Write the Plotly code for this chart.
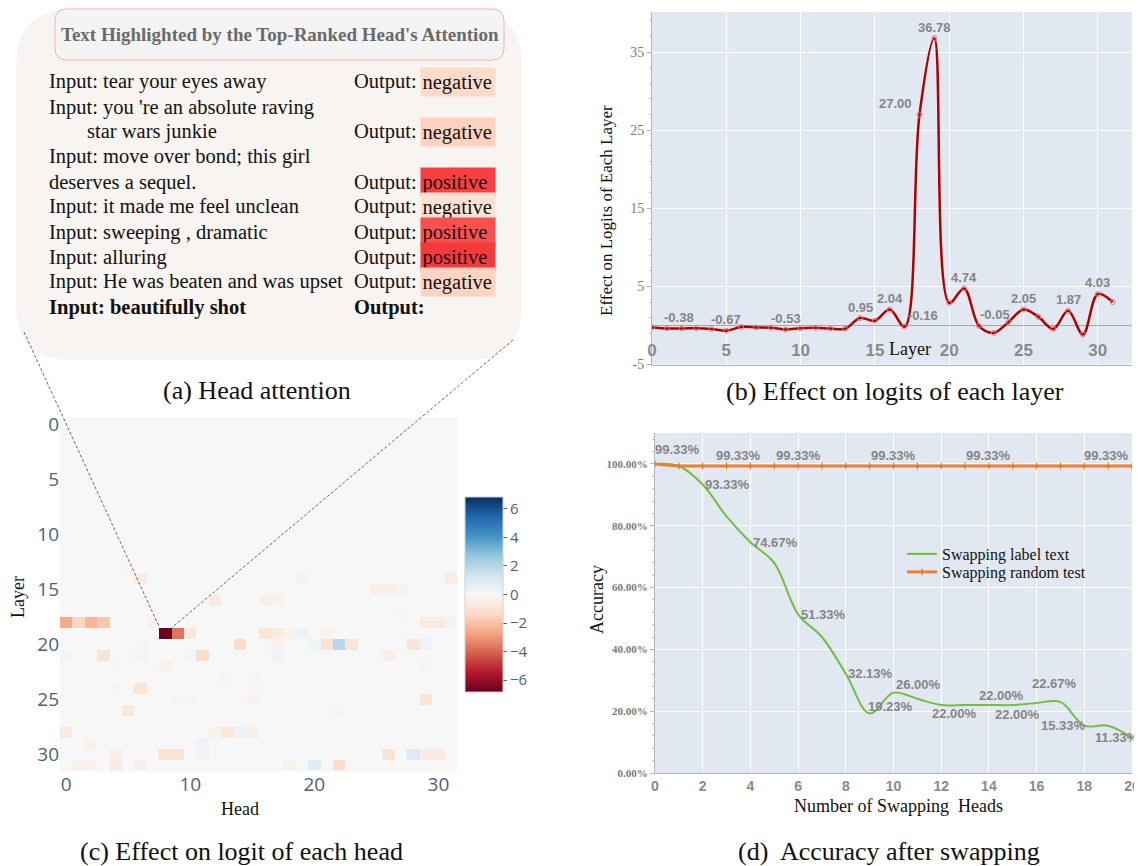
import numpy as np
import plotly.graph_objects as go

# The page body has an 8px margin, so the figure is drawn 8px smaller and every
# layout position (given in screen pixels) is converted with that offset.
SCREEN_W, SCREEN_H, OFF = 1142, 866, 8
W, H = SCREEN_W - OFF, SCREEN_H - OFF
SERIF = "Liberation Serif"
SANS = "Liberation Sans"
PSANS = "Open Sans"


def px(x):
    return (x - OFF) / W


def py(y):
    return 1 - (y - OFF) / H


# ---------------- data: (a) head attention text ----------------
input_texts = [
    "Input: tear your eyes away",
    "Input: you 're an absolute raving",
    "star wars junkie",
    "Input: move over bond; this girl",
    "deserves a sequel.",
    "Input: it made me feel unclean",
    "Input: sweeping , dramatic",
    "Input: alluring",
    "Input: He was beaten and was upset",
]
output_rows = [0, 2, 4, 5, 6, 7, 8]
output_labels = ["negative", "negative", "positive", "negative", "positive", "positive", "negative"]
highlight_colors = ["#FDDBCA", "#FDD2BF", "#FA3F40", "#FDE2D4", "#FB5050", "#F53A3E", "#FDD4C1"]
query_text = "Input: beautifully shot"

# ---------------- data: (b) effect on logits of each layer ----------------
layers = list(range(32))
layer_effect = [-0.25, -0.38, -0.40, -0.35, -0.45, -0.67, -0.20, -0.25, -0.28, -0.53,
                -0.35, -0.30, -0.40, -0.42, 0.95, 0.60, 2.04, -0.16, 27.00, 36.78,
                2.90, 4.74, -0.05, -0.95, 0.45, 2.05, 1.10, -0.45, 1.87, -1.15, 4.03, 3.00]
b_label_idx = [1, 5, 9, 14, 16, 17, 18, 19, 21, 22, 25, 28, 30]
b_label_dx = [12, 0, 0, 0, 0, 18, -24, 0, 0, 16, 0, 0, 0]

# ---------------- data: (c) effect on logit of each head ----------------
heads = list(range(32))
cell_layers = [18, 18, 18, 18, 18, 18, 18, 18,
               19, 19, 19, 19, 19, 19, 19, 19,
               20, 20, 20, 20, 20, 20, 20, 20, 20,
               21, 21, 21, 21, 21, 21, 21,
               22, 22, 22, 23, 23, 24, 24,
               25, 25, 25, 25, 26, 26,
               28, 28, 28, 28, 28, 29, 29,
               30, 30, 30, 30, 30, 30, 30, 30,
               31, 31, 31, 31, 31, 31, 31,
               13, 14, 14, 14, 15, 15, 15, 16, 16, 16, 17]
cell_heads = [0, 1, 2, 3, 7, 29, 30, 31,
              8, 9, 10, 16, 17, 18, 19, 21,
              6, 14, 17, 20, 21, 22, 23, 28, 29,
              0, 3, 6, 10, 11, 17, 26,
              4, 8, 29, 13, 15, 4, 6,
              9, 10, 15, 29, 5, 22,
              0, 12, 13, 14, 15, 2, 11,
              4, 8, 9, 11, 26, 28, 29, 30,
              1, 2, 4, 6, 18, 20, 22,
              5, 6, 19, 31, 25, 26, 27, 12, 16, 17, 27]
cell_values = [-2.6, -1.5, -2.3, -1.9, -0.3, -0.6, -0.6, -0.3,
               -6.8, -3.7, -0.8, -0.9, -0.6, -0.3, 0.4, -0.2,
               -0.1, -1.3, -0.3, 0.2, -1.0, 1.9, -0.9, -0.9, 0.3,
               -0.2, -1.0, -0.2, 0.15, -1.2, 0.2, -0.4,
               -0.1, -0.3, 0.1, 0.15, 0.15, 0.15, -0.9,
               -0.1, -0.1, -0.2, -0.9, -0.6, -0.1,
               -0.6, -0.3, -0.8, 0.4, -0.4, -0.3, 0.3,
               -0.4, -1.0, -1.0, 0.3, -1.0, 0.9, -0.6, -0.6,
               -0.3, -0.2, -0.6, -0.4, -0.3, 0.8, -1.2,
               -0.15, -0.5, -0.2, -0.5, -0.4, -0.4, -0.2, -0.6, -0.4, -0.3, 0.1]
z_lim = 6.84
colorbar_ticks = [-6, -4, -2, 0, 2, 4, 6]
RDBU = ['rgb(103,0,31)', 'rgb(178,24,43)', 'rgb(214,96,77)', 'rgb(244,165,130)',
        'rgb(253,219,199)', 'rgb(247,247,247)', 'rgb(209,229,240)', 'rgb(146,197,222)',
        'rgb(67,147,195)', 'rgb(33,102,172)', 'rgb(5,48,97)']

# ---------------- data: (d) accuracy after swapping ----------------
swap_n = list(range(21))
acc_label_text = [1.0, 0.9933, 0.9333, 0.83, 0.7467, 0.68, 0.5133, 0.44, 0.3213, 0.1923, 0.26,
                  0.24, 0.22, 0.22, 0.22, 0.22, 0.2267, 0.23, 0.1533, 0.153, 0.1133]
acc_random = [1.0, 0.9933, 0.9933, 0.9933, 0.9933, 0.9933, 0.9933, 0.9933, 0.9933, 0.9933, 0.9933,
              0.9933, 0.9933, 0.9933, 0.9933, 0.9933, 0.9933, 0.9933, 0.9933, 0.9933, 0.9933]
g_label_idx = [2, 4, 6, 8, 9, 10, 12, 14, 15, 16, 18, 20]
g_label_dx = [25, 25, 25, 25, 21, 25, 13, 13, 5, 18, -21, -15]
g_label_dy = [0, 0, 0, 0, 7, 8, -8, 10, -9, 19, 0, 0]
o_label_idx = [1, 3, 6, 10, 14, 19]
o_label_dx = [-1, 12, 0, 0, 0, -2]
o_label_dy = [16, 10, 10, 10, 10, 10]

# ---------------- figure ----------------
fig = go.Figure()

# (b)
fig.add_trace(go.Scatter(
    x=layers, y=layer_effect, mode="lines+markers", showlegend=False,
    line=dict(color="#B00000", width=2.5, shape="spline", smoothing=1.0),
    marker=dict(symbol="circle-open", size=5, color="#E27A7A", line=dict(width=1)),
    xaxis="x", yaxis="y", hoverinfo="skip"))

# (c)
z = np.zeros((32, 32))
for l, h, v in zip(cell_layers, cell_heads, cell_values):
    z[l, h] = v
fig.add_trace(go.Heatmap(
    z=z, x=heads, y=layers, colorscale=[[i / 10, c] for i, c in enumerate(RDBU)],
    zmin=-z_lim, zmax=z_lim, xaxis="x2", yaxis="y2", hoverinfo="skip",
    colorbar=dict(x=px(465), xanchor="left", xpad=0, y=py(594.5), yanchor="middle",
                  len=195, lenmode="pixels", thickness=38, thicknessmode="pixels", ypad=0,
                  tickvals=colorbar_ticks, ticks="outside", ticklen=4, tickcolor="#4c5f80",
                  tickfont=dict(family=PSANS, size=15, color="#4c5f80"),
                  outlinewidth=1, outlinecolor="#d0d0d0")))

# (d)
fig.add_trace(go.Scatter(
    x=swap_n, y=acc_label_text, name="Swapping label text", mode="lines",
    line=dict(color="#72BE3F", width=2, shape="spline", smoothing=1.0),
    xaxis="x3", yaxis="y3", hoverinfo="skip", legend="legend"))
fig.add_trace(go.Scatter(
    x=swap_n, y=acc_random, name="Swapping random test", mode="lines+markers",
    line=dict(color="#F08030", width=3, shape="spline"),
    marker=dict(symbol="line-ns", size=5, color="#D86A20", line=dict(width=1, color="#D86A20")),
    xaxis="x3", yaxis="y3", hoverinfo="skip", legend="legend2"))

annotations = []
shapes = []


def ann(**kw):
    d = dict(showarrow=False, xanchor="center", yanchor="middle", xref="paper", yref="paper")
    d.update(kw)
    annotations.append(d)


# (a) bubble and title box
def rrect(l, t, r, b, rad):
    def P(x, y):
        return f"{px(x):.5f},{py(y):.5f}"
    return (f"M {P(l + rad, t)} L {P(r - rad, t)} Q {P(r, t)} {P(r, t + rad)} "
            f"L {P(r, b - rad)} Q {P(r, b)} {P(r - rad, b)} L {P(l + rad, b)} "
            f"Q {P(l, b)} {P(l, b - rad)} L {P(l, t + rad)} Q {P(l, t)} {P(l + rad, t)} Z")


shapes.append(dict(type="path", xref="paper", yref="paper", path=rrect(16, 10, 522, 360, 55),
                   fillcolor="#F8F4F1", line=dict(width=0), layer="below"))
shapes.append(dict(type="path", xref="paper", yref="paper", path=rrect(55, 9, 504, 60, 12),
                   fillcolor="#F4F4F4", line=dict(width=1, color="#F2B4AA"), layer="below"))
ann(x=px(280), y=py(35), text="<b>Text Highlighted by the Top-Ranked Head's Attention</b>",
    font=dict(family=SERIF, size=19, color="#6a6a6a"))

row_y0, row_step = 82, 25
for k, t in enumerate(input_texts):
    x0 = 85 if t == "star wars junkie" else 47
    ann(x=px(x0), y=py(row_y0 + row_step * k), xanchor="left", text=t,
        font=dict(family=SERIF, size=20.5, color="#111"))
for k, lab, col in zip(output_rows, output_labels, highlight_colors):
    yy = py(row_y0 + row_step * k)
    ann(x=px(352), y=yy, xanchor="left", text="Output:",
        font=dict(family=SERIF, size=20.5, color="#111"))
    ann(x=px(420), y=yy, xanchor="left", text=lab, bgcolor=col, width=71, height=25,
        align="left", borderpad=1.5, font=dict(family=SERIF, size=20.5, color="#111"))
yq = py(row_y0 + row_step * 9)
ann(x=px(47), y=yq, xanchor="left", text=f"<b>{query_text}</b>",
    font=dict(family=SERIF, size=20.5, color="#111"))
ann(x=px(352), y=yq, xanchor="left", text="<b>Output:</b>",
    font=dict(family=SERIF, size=20.5, color="#111"))

# connector lines from bubble to the top-ranked head cell
shapes.append(dict(type="line", xref="paper", yref="paper", x0=px(24), y0=py(332), x1=px(159.5), y1=py(627.5),
                   line=dict(color="#666", width=1, dash="3px,2px"), layer="above"))
shapes.append(dict(type="line", xref="paper", yref="paper", x0=px(513), y0=py(340), x1=px(172), y1=py(627.5),
                   line=dict(color="#666", width=1, dash="3px,2px"), layer="above"))

# (b) value labels
for i, dx in zip(b_label_idx, b_label_dx):
    ann(xref="x", yref="y", x=layers[i], y=layer_effect[i], xshift=dx, yshift=11,
        text=f"{layer_effect[i]:.2f}",
        font=dict(family=SANS, size=13, color="#858585", weight="bold"))
# (d) value labels
for i, dx, dy in zip(g_label_idx, g_label_dx, g_label_dy):
    ann(xref="x3", yref="y3", x=swap_n[i], y=acc_label_text[i], xshift=dx, yshift=dy,
        text=f"{acc_label_text[i] * 100:.2f}%",
        font=dict(family=SANS, size=13, color="#858585", weight="bold"))
for i, dx, dy in zip(o_label_idx, o_label_dx, o_label_dy):
    ann(xref="x3", yref="y3", x=swap_n[i], y=acc_random[i], xshift=dx, yshift=dy,
        text=f"{acc_random[i] * 100:.2f}%",
        font=dict(family=SANS, size=13, color="#858585", weight="bold"))

# axis titles
ann(x=px(606), y=py(211), text="Effect on Logits of Each Layer", textangle=-90,
    font=dict(family=SERIF, size=17, color="#111"))
ann(x=px(910), y=py(349), text="Layer", font=dict(family=SERIF, size=18, color="#111"))
ann(x=px(18), y=py(597), text="Layer", textangle=-90, font=dict(family=SERIF, size=18, color="#111"))
ann(x=px(240), y=py(809), text="Head", font=dict(family=SERIF, size=18, color="#111"))
ann(x=px(597), y=py(600), text="Accuracy", textangle=-90, font=dict(family=SERIF, size=18, color="#111"))
ann(x=px(898), y=py(806), text="Number of Swapping  Heads", font=dict(family=SERIF, size=18, color="#111"))
# captions
for cx, cy, txt in [(257, 390, "(a) Head attention"),
                    (895, 392, "(b) Effect on logits of each layer"),
                    (241, 851, "(c) Effect on logit of each head"),
                    (889, 851, "(d)  Accuracy after swapping")]:
    ann(x=px(cx), y=py(cy), text=txt, font=dict(family=SERIF, size=26, color="#111"))

AX_LINE = "#b4b4b4"
LEG_FONT = dict(family=SERIF, size=16, color="#111")
fig.update_layout(
    width=W, height=H, margin=dict(l=0, r=0, t=0, b=0, pad=0), autosize=False,
    paper_bgcolor="white", plot_bgcolor="rgb(226,232,242)",
    shapes=shapes, annotations=annotations,
    legend=dict(x=px(902), y=py(554), xanchor="left", yanchor="middle", bgcolor="rgba(0,0,0,0)",
                font=LEG_FONT, tracegroupgap=0),
    legend2=dict(x=px(902), y=py(572), xanchor="left", yanchor="middle", bgcolor="rgba(0,0,0,0)",
                 font=LEG_FONT, tracegroupgap=0),
    # (b)
    xaxis=dict(domain=[px(652), px(1132)], range=[0, 32.3], anchor="y", tickvals=[0, 5, 10, 15, 20, 25, 30],
               showgrid=True, gridcolor="white", gridwidth=1, zeroline=False, showline=True,
               linecolor=AX_LINE, ticks="", ticklabelposition="inside", ticklabeloverflow="allow",
               ticklabelstandoff=6, automargin=False,
               tickfont=dict(family=SANS, size=17, color="#8a8a8a", weight="bold")),
    yaxis=dict(domain=[py(364.5), py(12)], range=[-5, 40.13], anchor="x",
               tickvals=[-5, 5, 15, 25, 35], ticktext=["-5", "5", "15", "25", "35"],
               showgrid=True, gridcolor="white", gridwidth=1, zeroline=True, zerolinecolor="#a8a8a8",
               zerolinewidth=1, showline=True, linecolor=AX_LINE, ticks="outside", ticklen=4,
               tickcolor=AX_LINE, automargin=False,
               minor=dict(dtick=2, tick0=-5, ticks="outside", ticklen=2, tickcolor="#c4c4c4"),
               tickfont=dict(family=SERIF, size=14, color="#7a7a7a")),
    # (c)
    xaxis2=dict(domain=[px(60), px(457)], range=[-0.5, 31.5], anchor="y2", tickvals=[0, 10, 20, 30],
                showgrid=False, zeroline=False, showline=False, ticks="", automargin=False,
                tickfont=dict(family=PSANS, size=19, color="#4c5f80")),
    yaxis2=dict(domain=[py(770.5), py(418.5)], range=[31.5, -0.5], anchor="x2",
                tickvals=[0, 5, 10, 15, 20, 25, 30], showgrid=False, zeroline=False, showline=False,
                ticks="", automargin=False, tickfont=dict(family=PSANS, size=19, color="#4c5f80")),
    # (d)
    xaxis3=dict(domain=[px(655), px(1132)], range=[0, 20], anchor="y3", dtick=2, tick0=0,
                showgrid=True, gridcolor="white", gridwidth=1, zeroline=False, showline=True,
                linecolor=AX_LINE, ticks="", automargin=False,
                tickfont=dict(family=SANS, size=14, color="#8a8a8a", weight="bold")),
    yaxis3=dict(domain=[py(773), py(433)], range=[0, 1.1], anchor="x3", tickvals=[0, 0.2, 0.4, 0.6, 0.8, 1.0],
                tickformat=".2%", showgrid=True, gridcolor="white", gridwidth=1, zeroline=False,
                showline=True, linecolor=AX_LINE, ticks="outside", ticklen=4, tickcolor=AX_LINE,
                automargin=False,
                minor=dict(dtick=0.04, tick0=0, ticks="outside", ticklen=2, tickcolor="#c4c4c4"),
                tickfont=dict(family=SERIF, size=11, color="#7a7a7a", weight="bold")),
)

fig.write_html("out.html")
